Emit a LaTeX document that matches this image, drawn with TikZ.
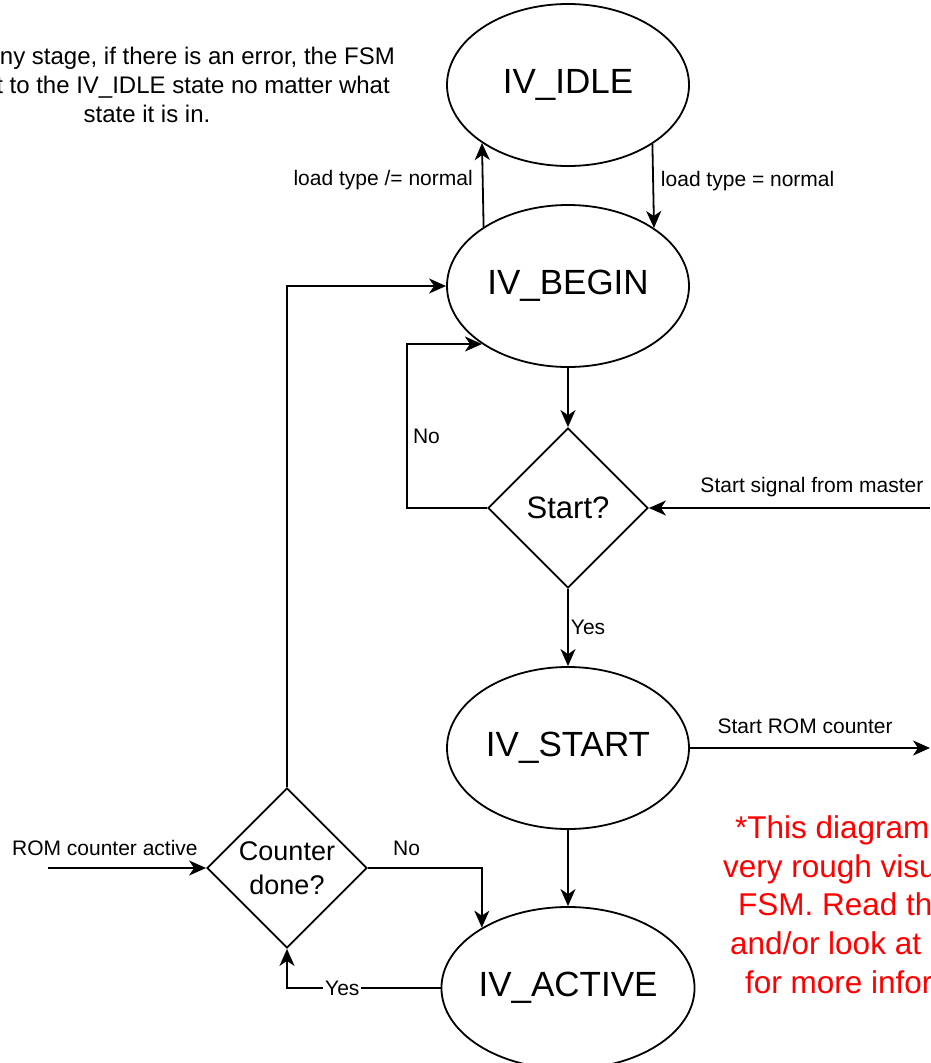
\documentclass[tikz,border=0pt]{standalone}
\usepackage{fontspec}
\setmainfont{Liberation Sans}
\usetikzlibrary{arrows.meta,shapes.geometric}

\tikzset{
  fsmstate/.style={ellipse, draw, line width=1.8pt, minimum width=242pt, minimum height=162pt, inner sep=0pt, font=\fontsize{35}{42}\selectfont},
  decision/.style={diamond, draw, line width=1.8pt, minimum width=160pt, minimum height=160pt, inner sep=0pt, align=center},
  arr/.style={line width=1.8pt, -{Stealth[length=17pt, width=15pt, inset=5pt]}},
  lbl/.style={inner sep=0pt, text depth=0pt, font=\fontsize{21}{25}\selectfont},
  note/.style={inner sep=0pt, font=\fontsize{24}{28}\selectfont},
  warn/.style={inner sep=0pt, text=red, font=\fontsize{31.5}{38}\selectfont}
}

\newcommand{\statenode}[4]{
\node[fsmstate] (#1) at (#2, #3) {#4};
}
\newcommand{\warnline}[4]{
\node[warn, anchor=base west] (#1) at (#2, #3) {#4};
}

\begin{document}
\begin{tikzpicture}[x=1pt, y=-1pt]
\useasboundingbox (0,0) rectangle (930,1063);
\clip (0,0) rectangle (930,1063);

\statenode{idle}{568}{85}{IV\_IDLE}
\statenode{begin}{568}{286}{IV\_BEGIN}
\statenode{ivstart}{568}{748}{IV\_START}
\statenode{active}{568}{988}{IV\_ACTIVE}

\node[decision, font=\fontsize{31}{37}\selectfont] (start) at (568, 508) {Start?};
\node[decision, font=\fontsize{27}{34}\selectfont] (counter) at (287, 868) {Counter\\done?};

\coordinate (mastersrc) at (930, 508);
\coordinate (romdst) at (930, 748);
\coordinate (romsrc) at (48, 868);

\draw[arr] (idle.325.8) -- node[lbl, right=7pt, pos=0.42] {load type = normal} (begin.34.2);
\draw[arr] (begin.145.8) -- node[lbl, left=9pt, pos=0.58] {load type /= normal} (idle.214.2);
\draw[arr] (begin.south) -- (start.north);
\draw[arr] (start.west) -- ++(-80,0) |- node[lbl, right=5pt, pos=0.22] {No} (begin.214.2);
\draw[arr] (mastersrc) -- node[lbl, above=15pt, pos=0.42] {Start signal from master} (start.east);
\draw[arr] (start.south) -- node[lbl, right=2pt] {Yes} (ivstart.north);
\draw[arr] (ivstart.east) -- node[lbl, above=14pt, pos=0.48] {Start ROM counter} (romdst);
\draw[arr] (ivstart.south) -- (active.north);
\draw[arr] (counter.east) -| node[lbl, above=12pt, pos=0.17] {No} (active.145.8);
\draw[arr] (active.west) -| node[lbl, fill=white, inner sep=2pt, pos=0.32] {Yes} (counter.south);
\draw[arr] (counter.north) |- (begin.west);
\draw[arr] (romsrc) -- node[lbl, above=12pt, pos=0.36] {ROM counter active} (counter.west);

\node[note, anchor=base east] (note1) at (395, 64) {ny stage, if there is an error, the FSM};
\node[note, anchor=base east] (note2) at (390, 93) {t to the IV\_IDLE state no matter what};
\node[note, anchor=base] (note3) at (147, 122) {state it is in.};

\warnline{warn1}{735}{838}{*This diagram}
\warnline{warn2}{723}{877}{very rough visual}
\warnline{warn3}{738}{915}{FSM. Read the}
\warnline{warn4}{730}{954}{and/or look at}
\warnline{warn5}{745}{993}{for more information}

\end{tikzpicture}
\end{document}
